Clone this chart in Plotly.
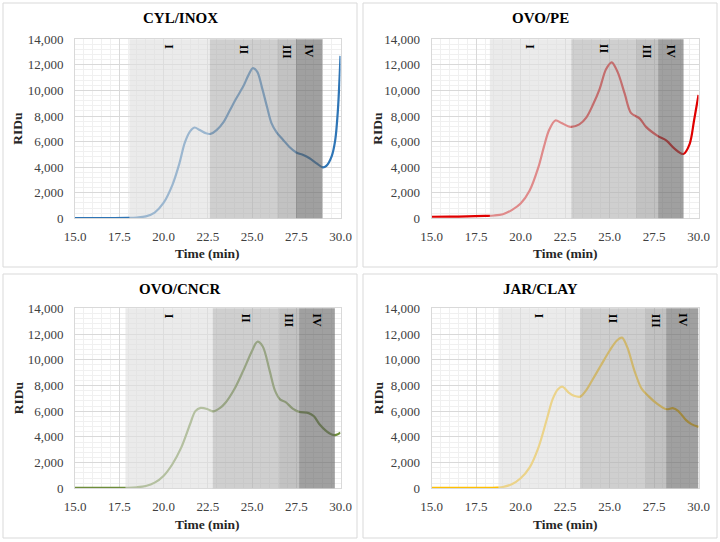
import plotly.graph_objects as go

# ---------------- data ----------------
titles = ["CYL/INOX", "OVO/PE", "OVO/CNCR", "JAR/CLAY"]
line_colors = ["#2E75B6", "#E00000", "#6E8E3A", "#FFC000"]
roman = ["I", "II", "III", "IV"]

t_cyl = [15, 16, 17, 18, 18.5, 19, 19.5, 20, 20.5, 20.9, 21.2, 21.5, 21.75, 22.05, 22.4, 22.65,
         23.0, 23.4, 23.75, 24.1, 24.5, 24.8, 25.05, 25.3, 25.55, 25.85, 26.1, 26.4, 26.75, 27.1,
         27.5, 27.9, 28.25, 28.65, 29.0, 29.2, 29.5, 29.7, 29.85, 30.0]
y_cyl = [20, 20, 20, 30, 60, 150, 450, 1200, 2600, 4300, 5900, 6800, 7100, 6900, 6650, 6600,
         6900, 7550, 8450, 9350, 10300, 11200, 11750, 11450, 10300, 8700, 7450, 6700, 6150, 5600,
         5150, 4950, 4700, 4300, 3980, 4100, 4850, 6100, 8400, 12700]

t_pe = [15, 16, 17, 18, 18.5, 19, 19.5, 20, 20.5, 21, 21.3, 21.6, 21.95, 22.3, 22.8, 23.3, 23.7,
        24.07, 24.45, 24.8, 25.12, 25.45, 25.85, 26.2, 26.7, 27.05, 27.7, 28.2, 28.65, 29.15,
        29.5, 29.75, 30.0]
y_pe = [120, 130, 150, 190, 220, 320, 640, 1150, 2150, 4000, 5550, 6900, 7650, 7450, 7150, 7350,
        7900, 8900, 10150, 11650, 12200, 11450, 9750, 8250, 7800, 7150, 6450, 6080, 5450, 5030,
        5800, 7650, 9650]

t_cncr = [15, 16, 17, 18, 18.5, 19, 19.5, 20, 20.5, 21, 21.5, 21.8, 22.1, 22.5, 22.8, 23.2, 23.5,
          24, 24.5, 25, 25.3, 25.6, 26, 26.3, 26.6, 26.9, 27.3, 27.65, 28.2, 28.5, 28.8, 29.2,
          29.5, 29.75, 30]
y_cncr = [30, 30, 30, 40, 80, 180, 440, 960, 1870, 3160, 4980, 6000, 6250, 6150, 5980, 6250, 6650,
          7700, 9130, 10680, 11400, 11050, 9130, 7600, 6900, 6700, 6200, 5950, 5850, 5600, 5000,
          4450, 4180, 4150, 4330]

t_clay = [15, 16, 17, 18, 18.7, 19, 19.5, 20, 20.5, 21, 21.5, 21.8, 22.1, 22.35, 22.7, 23.0, 23.35,
          23.7, 24.0, 24.5, 25.0, 25.4, 25.7, 26.0, 26.4, 26.8, 27.2, 27.65, 28.2, 28.55, 28.85,
          29.3, 29.6, 30]
y_clay = [30, 30, 30, 30, 60, 100, 310, 780, 1610, 3170, 5510, 6940, 7710, 7900, 7450, 7200, 7130,
          7650, 8350, 9530, 10700, 11480, 11720, 10960, 9140, 7750, 7150, 6600, 6150, 6230, 6030,
          5300, 4990, 4780]

# region boundaries (min): start of I, I/II, II/III, III/IV, end of IV
bounds_cyl = [18.07, 22.62, 26.42, 27.48, 28.98]
bounds_pe = [18.27, 22.85, 26.46, 27.73, 29.16]
bounds_cncr = [17.85, 22.78, 26.53, 27.66, 29.68]
bounds_clay = [18.75, 23.34, 27.0, 28.18, 30.0]

x_ticks = [15.0, 17.5, 20.0, 22.5, 25.0, 27.5, 30.0]
y_ticks = [0, 2000, 4000, 6000, 8000, 10000, 12000, 14000]

series_t = [t_cyl, t_pe, t_cncr, t_clay]
series_y = [y_cyl, y_pe, y_cncr, y_clay]
bounds = [bounds_cyl, bounds_pe, bounds_cncr, bounds_clay]

# ---------------- layout ----------------
W, H = 720, 542
FONT = "Liberation Serif"
region_fill = ["#dedede", "#b2b2b2", "#9c9c9c", "#666666"]
region_opacity = 0.62

x_domains = [[75 / W, 340.5 / W], [431.7 / W, 698.5 / W]]
y_domains = [[1 - 218.3 / H, 1 - 39.3 / H], [1 - 488.3 / H, 1 - 308.3 / H]]
boxes = [(3, 3, 357, 267), (363, 3, 717, 267), (3, 274, 357, 538), (363, 274, 717, 538)]

fig = go.Figure()
shapes = []
annotations = []
layout_axes = {}

for i in range(4):
    col = i % 2
    row = i // 2
    xa = "x" if i == 0 else f"x{i+1}"
    ya = "y" if i == 0 else f"y{i+1}"
    xkey = "xaxis" if i == 0 else f"xaxis{i+1}"
    ykey = "yaxis" if i == 0 else f"yaxis{i+1}"

    fig.add_trace(go.Scatter(
        x=series_t[i], y=series_y[i], mode="lines",
        line=dict(color=line_colors[i], width=2.2, shape="spline", smoothing=0.9),
        xaxis=xa, yaxis=ya, showlegend=False, hoverinfo="skip"))

    layout_axes[xkey] = dict(
        domain=x_domains[col], anchor=ya, range=[15, 30], automargin=False,
        tickvals=x_ticks, ticktext=[f"{v:.1f}" for v in x_ticks],
        showgrid=True, gridcolor="#d9d9d9", gridwidth=1,
        minor=dict(dtick=0.5, tick0=15, showgrid=True, gridcolor="#f0f0f0", gridwidth=1),
        showline=True, linecolor="#d9d9d9", mirror=True, zeroline=False,
        ticks="", ticklabelstandoff=6,
        tickfont=dict(family=FONT, size=13, color="#404040"),
    )
    layout_axes[ykey] = dict(
        domain=y_domains[row], anchor=xa, range=[0, 14000], automargin=False,
        tickvals=y_ticks, tickformat=",d",
        showgrid=True, gridcolor="#d9d9d9", gridwidth=1,
        minor=dict(dtick=400, tick0=0, showgrid=True, gridcolor="#f0f0f0", gridwidth=1),
        showline=True, linecolor="#d9d9d9", mirror=True, zeroline=False,
        ticks="", ticklabelstandoff=8,
        tickfont=dict(family=FONT, size=13, color="#404040"),
    )

    b = bounds[i]
    for k in range(4):
        shapes.append(dict(type="rect", xref=xa, yref=f"{ya} domain",
                           x0=b[k], x1=b[k + 1], y0=0, y1=1,
                           fillcolor=region_fill[k], opacity=region_opacity,
                           line=dict(width=0), layer="above"))
        annotations.append(dict(xref=xa, yref=ya, x=(b[k] + b[k + 1]) / 2, y=14000,
                                yshift=-3, xanchor="center", yanchor="top",
                                text=f"<b>{roman[k]}</b>", textangle=90, showarrow=False,
                                font=dict(family=FONT, size=12, color="#000000")))

    bx0, by0, bx1, by1 = boxes[i]
    shapes.append(dict(type="rect", xref="paper", yref="paper",
                       x0=bx0 / W, x1=bx1 / W, y0=1 - by1 / H, y1=1 - by0 / H,
                       line=dict(color="#d9d9d9", width=1), fillcolor="rgba(0,0,0,0)",
                       layer="below"))

    cx = (bx0 + bx1) / 2
    annotations.append(dict(xref="paper", yref="paper", x=cx / W, y=1 - (by0 + 15) / H,
                            xanchor="center", yanchor="middle", showarrow=False,
                            text=f"<b>{titles[i]}</b>",
                            font=dict(family=FONT, size=15, color="#000000")))
    pcx = (x_domains[col][0] + x_domains[col][1]) / 2
    annotations.append(dict(xref="paper", yref="paper", x=pcx, y=1 - (by0 + 250) / H,
                            xanchor="center", yanchor="middle", showarrow=False,
                            text="<b>Time (min)</b>",
                            font=dict(family=FONT, size=13.5, color="#262626")))
    pcy = (y_domains[row][0] + y_domains[row][1]) / 2
    annotations.append(dict(xref="paper", yref="paper", x=(bx0 + 15) / W, y=pcy,
                            xanchor="center", yanchor="middle", showarrow=False,
                            text="<b>RIDu</b>", textangle=-90,
                            font=dict(family=FONT, size=13.5, color="#262626")))

fig.update_layout(
    width=W, height=H,
    margin=dict(l=0, r=0, t=0, b=0),
    paper_bgcolor="white", plot_bgcolor="white",
    shapes=shapes, annotations=annotations,
    **layout_axes,
)

fig.write_html("out.html", config={"displayModeBar": False},
               post_script="document.body.style.margin='0';")
